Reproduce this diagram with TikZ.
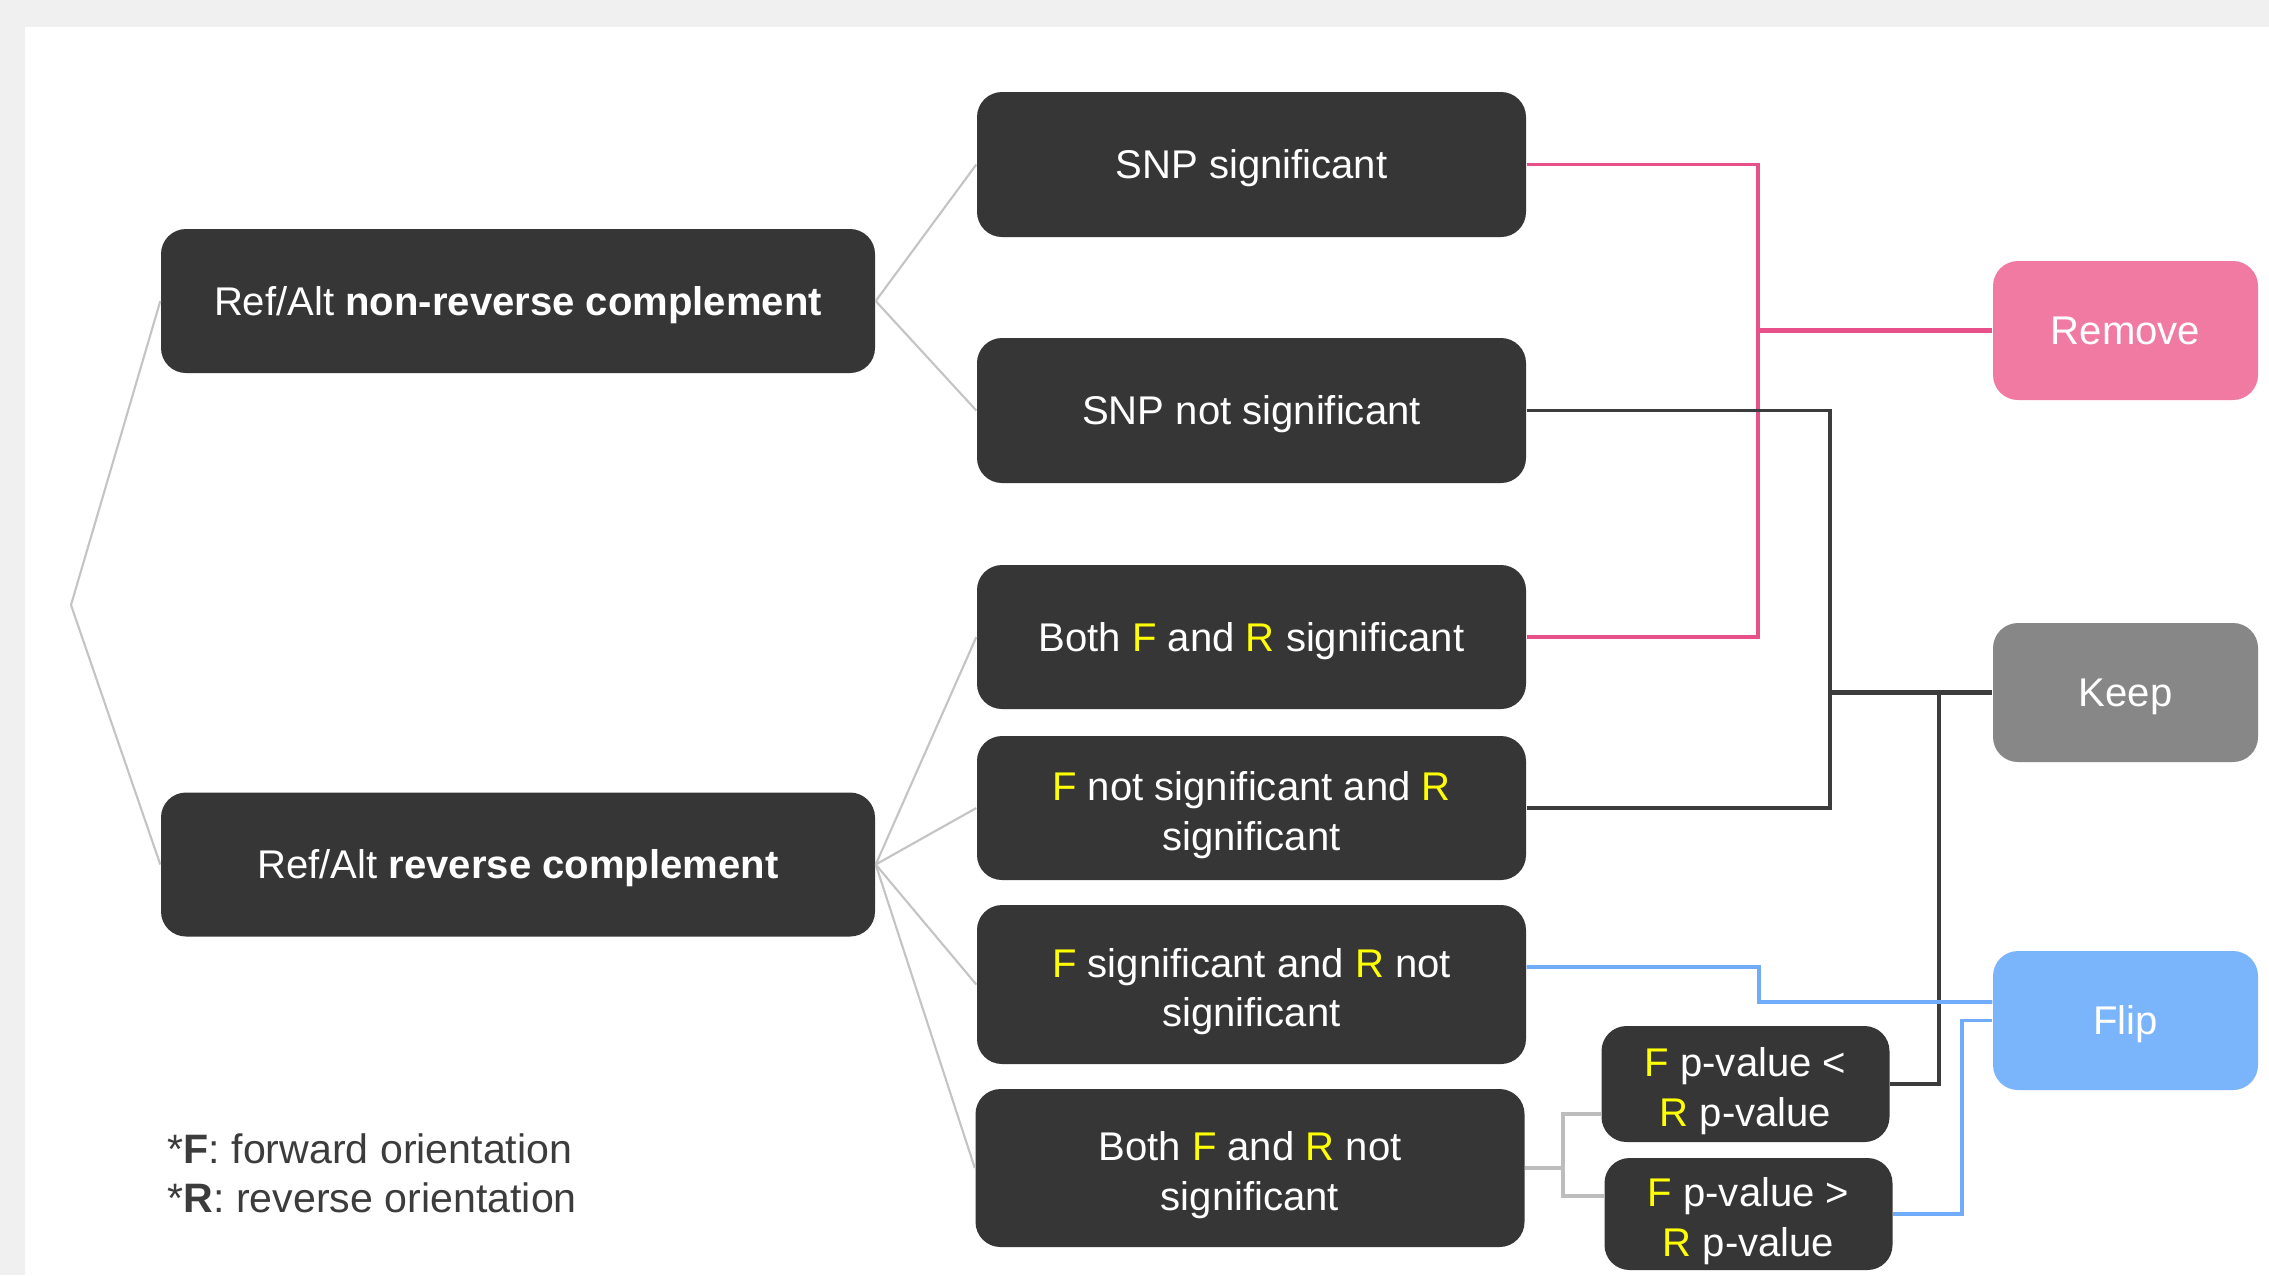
\documentclass[tikz,border=0pt]{standalone}
\usepackage{fontspec}
\setmainfont{Liberation Sans}
\usetikzlibrary{positioning}
\definecolor{pagegray}{RGB}{240,240,240}
\definecolor{boxdark}{RGB}{54,54,54}
\definecolor{removepink}{RGB}{240,122,162}
\definecolor{keepgray}{RGB}{135,135,135}
\definecolor{flipblue}{RGB}{122,180,251}
\definecolor{linkpink}{RGB}{232,80,138}
\definecolor{linkdark}{RGB}{60,60,60}
\definecolor{linkblue}{RGB}{112,172,250}
\definecolor{treegray}{RGB}{196,196,196}
\definecolor{bracketgray}{RGB}{189,189,189}
\definecolor{hilite}{RGB}{255,255,0}
\definecolor{legendtext}{RGB}{60,60,60}
\newcommand{\fwd}{\textcolor{hilite}{F}}
\newcommand{\rev}{\textcolor{hilite}{R}}
% same baseline for every box
\newcommand{\topstrut}{\rule{0pt}{11.16pt}}
\newcommand{\tallstrut}{\rule{0pt}{12.9pt}}
\newcommand{\botstrut}{\rule[-3pt]{0pt}{3pt}}

\begin{document}
\begin{tikzpicture}[
    txt/.style={font=\fontsize{11.4}{14}\selectfont},
    boxtxt/.style={txt,execute at begin node=\topstrut,
                   execute at end node=\botstrut},
    cond/.style={boxtxt,fill=boxdark,text=white,rounded corners=0.25cm,
                 align=center,inner sep=0pt,minimum width=5.49cm},
    orient/.style={cond,minimum width=7.14cm,minimum height=1.44cm},
    pval/.style={cond,minimum width=2.88cm},
    outcome/.style={boxtxt,text=white,rounded corners=0.25cm,inner sep=0pt,
                    minimum width=2.65cm,minimum height=1.39cm},
    treeline/.style={treegray,line width=0.6pt},
    pinklink/.style={linkpink,line width=1.1pt},
    darklink/.style={linkdark,line width=1.1pt},
    bluelink/.style={linkblue,line width=1.1pt},
    bracket/.style={bracketgray,line width=1.4pt}]

  % page
  \useasboundingbox (0,0) rectangle (22.69,-12.75);
  \fill[pagegray] (0,0) rectangle (22.69,-12.75);
  \fill[white] (0.25,-0.27) rectangle (22.69,-12.75);

  % first split
  \coordinate (root) at (0.71,-6.05);
  \node[orient] (nrc) at (5.18,-3.01) {Ref/Alt \textbf{non-reverse complement}};
  \node[orient] (rc) at (5.18,-8.645) {Ref/Alt \textbf{reverse complement}};

  % conditions
  \node[cond,minimum height=1.45cm] (snpsig) at (12.515,-1.645) {SNP significant};
  \node[cond,minimum height=1.45cm] (snpnot) at (12.515,-4.105) {SNP not significant};
  \node[cond,minimum height=1.44cm] (bothsig) at (12.515,-6.37)
    {Both \fwd{} and \rev{} significant};
  \node[cond,minimum height=1.44cm] (fnotr) at (12.515,-8.08)
    {\tallstrut\fwd{} not significant and \rev{}\\significant};
  \node[cond,minimum height=1.59cm] (fsigr) at (12.515,-9.845)
    {\tallstrut\fwd{} significant and \rev{} not\\significant};
  \node[cond,minimum height=1.58cm] (bothnot) at (12.50,-11.68)
    {\tallstrut Both \fwd{} and \rev{} not\\significant};
  \node[pval,minimum height=1.16cm] (pless) at (17.455,-10.84)
    {\tallstrut\fwd{} p-value <\\\rev{} p-value};
  \node[pval,minimum height=1.12cm] (pmore) at (17.485,-12.14)
    {\tallstrut\fwd{} p-value >\\\rev{} p-value};

  % outcomes
  \node[outcome,fill=removepink] (remove) at (21.255,-3.305) {Remove};
  \node[outcome,fill=keepgray] (keep) at (21.255,-6.925) {Keep};
  \node[outcome,fill=flipblue] (flip) at (21.255,-10.205) {Flip};

  % tree
  \draw[treeline] (root) -- (nrc.west);
  \draw[treeline] (root) -- (rc.west);
  \foreach \c in {snpsig,snpnot}
    \draw[treeline] (nrc.east) -- (\c.west);
  \foreach \c in {bothsig,fnotr,fsigr,bothnot}
    \draw[treeline] (rc.east) -- (\c.west);

  % p-value split
  \coordinate (split) at (15.63,-11.68);
  \draw[bracket] (bothnot.east) -- (split);
  \draw[bracket] ([yshift=-3mm]pless.west) -| (split) |- ([yshift=1.8mm]pmore.west);

  % remove
  \coordinate (pinkbus) at (17.58,-3.305);
  \draw[pinklink] (snpsig.east) -| (pinkbus) |- (bothsig.east);
  \draw[pinklink,line width=1.4pt] (pinkbus) -- (remove.west);

  % keep
  \coordinate (keepbus) at (18.30,-6.925);
  \coordinate (keepbus2) at (19.39,-6.925);
  \draw[darklink] (snpnot.east) -| (keepbus) |- (fnotr.east);
  \draw[darklink,line width=1.4pt] (keepbus) -- (keep.west);
  \draw[darklink] (keepbus2) |- (pless.east);

  % flip
  \coordinate (flipbend) at (17.59,-9.67);
  \coordinate (flipbend2) at (19.62,-12.14);
  \draw[bluelink] ([yshift=1.75mm]fsigr.east) -- (flipbend) |- ([yshift=1.85mm]flip.west);
  \draw[bluelink] (pmore.east) -- (flipbend2) |- (flip.west);

  % legend
  \node[font=\fontsize{11.7}{14}\selectfont,text=legendtext,align=left,
        anchor=north west,inner sep=0pt]
    (legend) at (1.67,-11.33)
    {*\textbf{F}: forward orientation\\*\textbf{R}: reverse orientation};
\end{tikzpicture}
\end{document}
